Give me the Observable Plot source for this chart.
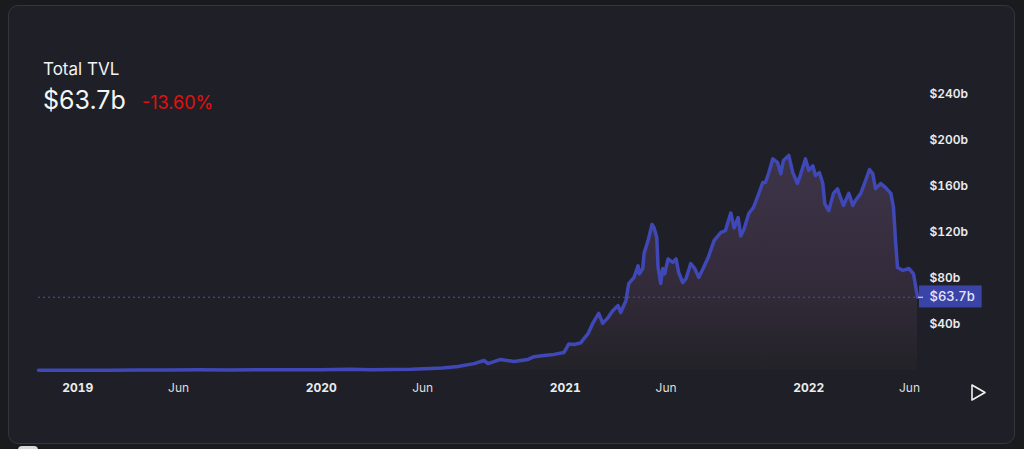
<!DOCTYPE html>
<html>
<head>
<meta charset="utf-8">
<script src="https://cdn.jsdelivr.net/npm/d3@7"></script>
<script src="https://cdn.jsdelivr.net/npm/@observablehq/plot@0.6"></script>
<style>
  html, body { margin: 0; padding: 0; }
  body { width: 1024px; height: 449px; overflow: hidden; background: #1a1b1f; font-family: Inter, "Noto Sans", sans-serif; position: relative; }
  #card { position: absolute; left: 8px; top: 5px; width: 1007px; height: 439px; box-sizing: border-box; border: 1px solid #34353d; border-radius: 10px; background: #1f2027; }
  .t { position: absolute; white-space: nowrap; line-height: 1; }
  #title { left: 43px; top: 61px; font-size: 17px; color: #f2f2f2; }
  #value { left: 43px; top: 88px; font-size: 25px; color: #f5f5f5; }
  #change { left: 142px; top: 94px; font-size: 18px; color: #e5100f; }
  #chart { position: absolute; left: 0; top: 80px; }
  #play { position: absolute; left: 968px; top: 382px; }
  #chk { position: absolute; left: 18px; top: 446px; width: 20px; height: 12px; border-radius: 4px; background: #d9d9d9; }
</style>
</head>
<body>
<div id="card"></div>
<div class="t" id="title"></div>
<div class="t" id="value"></div>
<div class="t" id="change"></div>
<div id="chart"></div>
<svg id="play" width="22" height="22" viewBox="0 0 22 22"><polygon points="4,3 17,10.5 4,18" fill="none" stroke="#f0f0f0" stroke-width="1.6" stroke-linejoin="round"/></svg>
<div id="chk"></div>
<script>
// ---- data ----
const titleText = "Total TVL";
const currentLabel = "$63.7b";
const changeLabel = "-13.60%";
const currentValue = 63.7;

const dates = [
  "2018-11-03","2018-12-01","2019-01-01","2019-02-15","2019-04-01","2019-05-15","2019-07-01","2019-08-15",
  "2019-10-01","2019-11-15","2019-12-31","2020-02-14","2020-03-15","2020-04-15","2020-05-15","2020-06-13",
  "2020-07-01","2020-07-24","2020-08-17","2020-09-01","2020-09-07","2020-09-26","2020-10-16","2020-11-06",
  "2020-11-15","2020-11-30","2020-12-15","2020-12-30","2021-01-06","2021-01-14","2021-01-24","2021-01-29",
  "2021-02-04","2021-02-11","2021-02-20","2021-02-26","2021-03-06","2021-03-13","2021-03-21","2021-03-25",
  "2021-04-02","2021-04-06","2021-04-14","2021-04-20","2021-04-22","2021-04-27","2021-04-29","2021-05-05",
  "2021-05-11","2021-05-14","2021-05-18","2021-05-20","2021-05-24","2021-05-27","2021-05-30","2021-06-04",
  "2021-06-11","2021-06-16","2021-06-20","2021-06-26","2021-07-01","2021-07-08","2021-07-14","2021-07-20",
  "2021-07-26","2021-08-03","2021-08-12","2021-08-22","2021-08-29","2021-09-06","2021-09-11","2021-09-17",
  "2021-09-21","2021-09-26","2021-10-03","2021-10-10","2021-10-18","2021-10-24","2021-10-28","2021-11-02",
  "2021-11-08","2021-11-15","2021-11-20","2021-11-24","2021-12-02","2021-12-08","2021-12-15","2021-12-20",
  "2021-12-27","2022-01-01","2022-01-07","2022-01-11","2022-01-17","2022-01-22","2022-01-25","2022-01-31",
  "2022-02-07","2022-02-13","2022-02-18","2022-02-22","2022-03-02","2022-03-08","2022-03-12","2022-03-20",
  "2022-03-27","2022-04-02","2022-04-07","2022-04-11","2022-04-19","2022-04-26","2022-05-04","2022-05-08",
  "2022-05-11","2022-05-14","2022-05-22","2022-05-31","2022-06-07","2022-06-13"
];
const tvl = [
  0.3,0.3,0.3,0.3,0.4,0.5,0.6,0.5,
  0.6,0.6,0.7,1.0,0.6,0.8,1.0,1.7,
  2.2,3.5,6.0,8.7,6.0,9.6,7.8,9.6,
  12.0,13.0,14.0,15.7,23.0,22.6,24.0,27.8,
  32.0,40.9,49.6,41.0,46.0,52.0,56.5,50.4,
  61.0,75.6,81.0,91.0,84.0,88.7,101.7,113.0,
  127.0,124.0,115.7,89.6,75.6,88.7,84.0,97.0,
  94.0,97.0,85.0,76.5,80.0,93.0,88.7,81.0,
  88.0,98.0,113.0,120.0,121.7,137.0,124.0,133.0,
  117.0,123.0,136.5,141.7,153.9,163.5,163.5,172.0,
  184.0,181.0,171.0,182.6,187.0,172.0,162.6,171.0,
  184.0,174.0,178.0,169.6,172.0,162.6,145.0,139.0,
  154.0,158.0,149.6,143.5,154.0,143.5,147.8,154.0,
  165.0,174.8,171.0,158.0,162.6,159.0,154.0,141.7,
  113.0,89.6,87.0,88.7,84.0,63.7
];
const xDomain = ["2018-11-03", "2022-06-13"];
const yearTicks = ["2019-01-01","2020-01-01","2021-01-01","2022-01-01"];
const monthTicks = ["2019-06-01","2020-06-01","2021-06-01","2022-06-01"];
const yTicks = [40, 80, 120, 160, 200, 240];

// ---- page text ----
document.getElementById("title").textContent = titleText;
document.getElementById("value").textContent = currentLabel;
document.getElementById("change").textContent = changeLabel;

const data = dates.map((d, i) => ({date: new Date(d), value: tvl[i]}));
const toDate = s => new Date(s);

const gradientDefs = () => {
  const ns = "http://www.w3.org/2000/svg";
  const defs = document.createElementNS(ns, "defs");
  defs.innerHTML = `<linearGradient id="tvlGrad" x1="0" y1="0" x2="0" y2="1">
      <stop offset="0" stop-color="#3e3449"/>
      <stop offset="0.6" stop-color="#332b3a"/>
      <stop offset="1" stop-color="#232228"/>
    </linearGradient>`;
  return defs;
};

const chart = Plot.plot({
  width: 1024,
  height: 340,
  marginLeft: 38,
  marginRight: 107,
  marginTop: 14,
  marginBottom: 50,
  style: {background: "transparent", color: "#e6e6e6", fontFamily: "Inter, 'Noto Sans', sans-serif", fontSize: "12px", overflow: "visible"},
  x: {type: "utc", domain: xDomain.map(toDate), label: null},
  y: {domain: [0, 240], label: null},
  marks: [
    gradientDefs,
    Plot.areaY(data, {x: "date", y: "value", fill: "url(#tvlGrad)"}),
    Plot.ruleY([currentValue], {stroke: "#4a52b3", strokeWidth: 1, strokeDasharray: "2,3"}),
    Plot.lineY(data, {x: "date", y: "value", stroke: "#3f48b6", strokeWidth: 3.5, strokeLinejoin: "round"}),
    Plot.axisX(yearTicks.map(toDate), {tickSize: 0, tickPadding: 13, tickFormat: "%Y", fontWeight: 700, fill: "#ececec", label: null}),
    Plot.axisX(monthTicks.map(toDate), {tickSize: 0, tickPadding: 13, tickFormat: "%b", fontWeight: 400, fill: "#dedede", label: null}),
    Plot.axisY(yTicks, {anchor: "right", tickSize: 0, tickPadding: 12, tickFormat: d => `$${d}b`, fontWeight: 600, fill: "#ececec", label: null}),
    Plot.axisY([currentValue], {anchor: "right", tickSize: 5, tickPadding: 7, stroke: "#e8e8f5", tickFormat: () => currentLabel, fontWeight: 500, fontSize: 13, fill: "#e4e6ff", label: null, className: "curaxis"})
  ]
});
document.getElementById("chart").appendChild(chart);

// background box behind the current-value label (measured from the rendered label)
const svg = chart.tagName.toLowerCase() === "svg" ? chart : chart.querySelector("svg");
const groups = svg.querySelectorAll(".curaxis");
if (groups.length) {
  const sb = svg.getBoundingClientRect();
  let minX = Infinity, maxX = -Infinity, minY = Infinity, maxY = -Infinity;
  groups.forEach(g => {
    const b = g.getBoundingClientRect();
    minX = Math.min(minX, b.left - sb.left); maxX = Math.max(maxX, b.right - sb.left);
    minY = Math.min(minY, b.top - sb.top); maxY = Math.max(maxY, b.bottom - sb.top);
  });
  const rect = document.createElementNS("http://www.w3.org/2000/svg", "rect");
  rect.setAttribute("x", minX + 1);
  rect.setAttribute("y", minY - 3);
  rect.setAttribute("width", maxX - minX + 6);
  rect.setAttribute("height", maxY - minY + 6);
  rect.setAttribute("fill", "#3a43a6");
  groups[0].parentNode.insertBefore(rect, groups[0]);
}
</script>
</body>
</html>
